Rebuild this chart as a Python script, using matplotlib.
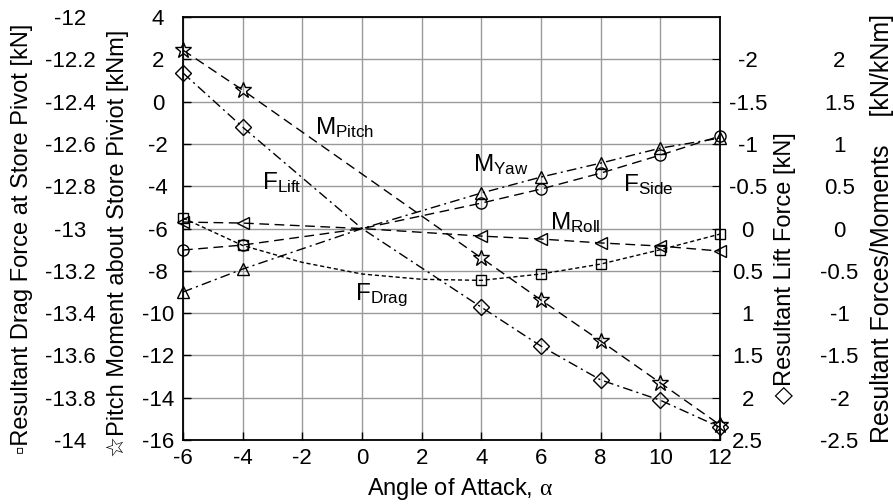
import numpy as np
import matplotlib
matplotlib.use("Agg")
import matplotlib.pyplot as plt

plt.rcParams['font.family'] = ['Liberation Sans', 'DejaVu Sans']
plt.rcParams['mathtext.fontset'] = 'custom'
plt.rcParams['mathtext.sf'] = 'Liberation Sans'
plt.rcParams['mathtext.rm'] = 'Liberation Sans'
plt.rcParams['mathtext.it'] = 'Liberation Serif'

# angle of attack (line points, markers skip alpha = 0)
alpha = [-6, -4, 4, 6, 8, 10, 12]
alpha_line = [-6, -4, 0, 4, 6, 8, 10, 12]
alpha_drag = [-6, -4, -2, 0, 2, 4, 6, 8, 10, 12]

# pitch moment [kNm] (left axis)
m_pitch = [2.44, 0.55, -7.39, -9.38, -11.32, -13.30, -15.29]
# drag force [kN] (outer left axis)
f_drag = [-12.95, -13.08, -13.16, -13.215, -13.24, -13.245, -13.215, -13.168, -13.10, -13.026]
# lift force [kN] (right axis, reversed)
f_lift = [-1.84, -1.20, 0.0, 0.93, 1.39, 1.79, 2.03, 2.35]
# other forces / moments (outer right axis)
m_roll = [0.077, 0.065, 0.0, -0.089, -0.124, -0.17, -0.207, -0.266]
f_side = [-0.254, -0.195, 0.0, 0.301, 0.467, 0.656, 0.869, 1.094]
m_yaw = [-0.75, -0.479, 0.0, 0.42, 0.609, 0.774, 0.951, 1.07]

x_ticks = np.arange(-6, 13, 2)
pitch_ticks = np.arange(-16, 5, 2)
drag_ticks = np.round(np.arange(-14, -11.99, 0.2), 1)
lift_ticks = np.arange(-2, 2.51, 0.5)
res_ticks = np.arange(-2.5, 2.01, 0.5)

mark_line = [0, 1, 3, 4, 5, 6, 7]
mark_drag = [0, 1, 5, 6, 7, 8, 9]

TS = 16
LS = 17
AS = 17.5

fig = plt.figure(figsize=(8.93, 5.04), dpi=100)
ax = fig.add_axes([0.2049, 0.127, 0.6014, 0.839])

ax.set_xlim(-6, 12)
ax.set_ylim(-16, 4)
ax.set_xticks(x_ticks, [f"{v:g}" for v in x_ticks])
ax.set_yticks(pitch_ticks, [f"{v:g}" for v in pitch_ticks])
ax.grid(True, color='#9a9a9a', lw=1)
ax.tick_params(direction='in', length=6, width=1, labelsize=TS)
ax.tick_params(axis='y', pad=18)
ax.tick_params(axis='x', pad=6)
for t in ax.get_yticklabels():
    t.set_ha('center')
for s in ax.spines.values():
    s.set_linewidth(1.3)

ax_drag = ax.twinx()
ax_drag.set_ylim(-14, -12)
ax_drag.yaxis.set_ticks_position('left')
ax_drag.set_yticks(drag_ticks, [f"{v:g}" for v in drag_ticks])
ax_drag.tick_params(axis='y', length=0, pad=81, labelsize=TS)
for t in ax_drag.get_yticklabels():
    t.set_ha('center')
for s in ax_drag.spines.values():
    s.set_visible(False)

ax_lift = ax.twinx()
ax_lift.set_ylim(2.5, -2.5)
ax_lift.set_yticks(lift_ticks, [f"{v:g}" for v in lift_ticks])
ax_lift.tick_params(axis='y', direction='in', length=6, pad=20, labelsize=TS)
for t in ax_lift.get_yticklabels():
    t.set_ha('center')
for s in ax_lift.spines.values():
    s.set_visible(False)

ax_res = ax.twinx()
ax_res.set_ylim(-2.5, 2.5)
ax_res.set_yticks(res_ticks, [f"{v:g}" for v in res_ticks])
ax_res.tick_params(axis='y', length=0, pad=86, labelsize=TS)
for t in ax_res.get_yticklabels():
    t.set_ha('center')
for s in ax_res.spines.values():
    s.set_visible(False)

common = dict(color='black', lw=1.0, mfc='none', mec='black', mew=1.0, clip_on=False)

ax.plot(alpha, m_pitch, ls=(0, (7, 4)), marker='*', ms=12, **common)
ax_drag.plot(alpha_drag, f_drag, ls=(0, (3, 2)), marker='s', ms=6.5,
             markevery=mark_drag, **common)
ax_lift.plot(alpha_line, f_lift, ls=(0, (7, 3, 1.5, 3)), marker='D', ms=8,
             markevery=mark_line, **common)
ax_res.plot(alpha_line, m_roll, ls=(0, (7, 4)), marker='<', ms=9,
            markevery=mark_line, **common)
ax_res.plot(alpha_line, f_side, ls=(0, (7, 4)), marker='o', ms=8,
            markevery=mark_line, **common)
ax_res.plot(alpha_line, m_yaw, ls=(0, (7, 3, 1.5, 3)), marker='^', ms=9,
            markevery=mark_line, **common)

# curve names
ax.text(-1.58, -1.58, r'$\mathsf{M}_{\mathsf{Pitch}}$', fontsize=AS)
ax.text(-3.35, -4.18, r'$\mathsf{F}_{\mathsf{Lift}}$', fontsize=AS)
ax.text(3.72, -3.33, r'$\mathsf{M}_{\mathsf{Yaw}}$', fontsize=AS)
ax.text(8.75, -4.27, r'$\mathsf{F}_{\mathsf{Side}}$', fontsize=AS)
ax.text(6.30, -6.07, r'$\mathsf{M}_{\mathsf{Roll}}$', fontsize=AS)
ax.text(-0.23, -9.38, r'$\mathsf{F}_{\mathsf{Drag}}$', fontsize=AS)

ax.set_xlabel(r'Angle of Attack, $\alpha$', fontsize=LS)
ax.xaxis.set_label_coords(0.516, -0.085)

ax.set_ylabel('☆Pitch Moment about Store Piviot [kNm]', fontsize=LS)
ax_drag.set_ylabel('▫Resultant Drag Force at Store Pivot [kN]', fontsize=LS)
ax_drag.yaxis.set_label_position('left')
ax_lift.set_ylabel('◇Resultant Lift Force [kN]', fontsize=LS, rotation=90)
ax_res.set_ylabel('Resultant Forces/Moments    [kN/kNm]', fontsize=18, rotation=90)

for a, xc, yc in [(ax, -0.121, 0.466), (ax_drag, -0.300, 0.475),
                  (ax_lift, 1.121, 0.407), (ax_res, 1.302, 0.5)]:
    a.yaxis.label.set_va('center')
    a.yaxis.label.set_ha('center')
    a.yaxis.set_label_coords(xc, yc)

fig.savefig('out.png', dpi=100)
